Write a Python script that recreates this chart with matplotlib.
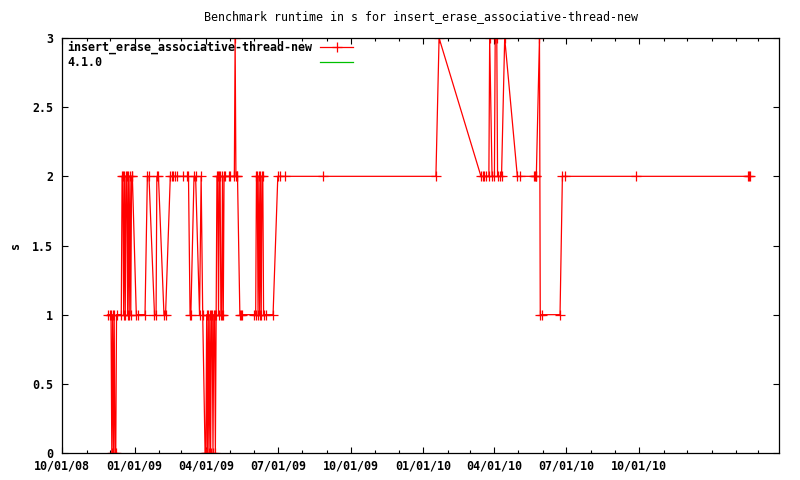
import matplotlib
matplotlib.use("Agg")
import matplotlib.pyplot as plt
import matplotlib.dates as mdates
from matplotlib.lines import Line2D
from matplotlib.ticker import FixedLocator
import pandas as pd

title = "Benchmark runtime in s for insert_erase_associative-thread-new"
y_label = "s"
series_label = "insert_erase_associative-thread-new"
ref_label = "4.1.0"

dates = [
    "2008-11-28", "2008-12-01", "2008-12-02", "2008-12-03", "2008-12-04", "2008-12-05",
    "2008-12-06", "2008-12-07", "2008-12-08", "2008-12-09",
    "2008-12-15", "2008-12-16", "2008-12-17", "2008-12-18", "2008-12-19", "2008-12-20",
    "2008-12-21", "2008-12-22", "2008-12-23", "2008-12-24", "2008-12-25", "2008-12-26",
    "2008-12-27", "2008-12-28", "2008-12-29",
    "2009-01-03", "2009-01-05", "2009-01-14", "2009-01-17", "2009-01-19", "2009-01-26",
    "2009-01-28", "2009-01-29", "2009-01-31", "2009-02-07", "2009-02-09", "2009-02-15",
    "2009-02-17", "2009-02-19", "2009-02-21", "2009-02-24",
    "2009-03-03", "2009-03-08", "2009-03-10", "2009-03-12", "2009-03-13", "2009-03-17",
    "2009-03-19", "2009-03-24", "2009-03-26", "2009-03-28", "2009-03-31",
    "2009-04-01", "2009-04-02", "2009-04-03", "2009-04-04", "2009-04-05", "2009-04-06",
    "2009-04-07", "2009-04-08", "2009-04-09", "2009-04-10", "2009-04-11", "2009-04-12",
    "2009-04-13", "2009-04-14", "2009-04-15", "2009-04-16", "2009-04-17", "2009-04-18",
    "2009-04-19", "2009-04-20", "2009-04-21", "2009-04-22", "2009-04-23", "2009-04-24",
    "2009-04-25", "2009-04-30", "2009-05-02", "2009-05-07", "2009-05-08", "2009-05-09",
    "2009-05-10", "2009-05-11", "2009-05-14", "2009-05-15", "2009-05-17",
    "2009-06-01", "2009-06-03", "2009-06-04", "2009-06-05", "2009-06-06", "2009-06-07",
    "2009-06-08", "2009-06-09", "2009-06-10", "2009-06-11", "2009-06-12", "2009-06-13",
    "2009-06-16", "2009-06-25", "2009-07-01", "2009-07-04", "2009-07-10", "2009-08-27",
    "2010-01-17", "2010-01-21", "2010-03-15", "2010-03-17", "2010-03-19", "2010-03-21",
    "2010-03-25", "2010-03-26", "2010-03-29", "2010-04-01", "2010-04-02", "2010-04-04",
    "2010-04-05", "2010-04-08", "2010-04-10", "2010-04-14", "2010-04-30", "2010-05-03",
    "2010-05-21", "2010-05-22", "2010-05-23", "2010-05-24", "2010-05-28", "2010-05-29",
    "2010-05-31", "2010-06-23", "2010-06-26", "2010-06-29", "2010-09-27",
    "2011-02-16", "2011-02-17", "2011-02-18",
]

runtimes = [
    1, 1, 1, 0, 1, 0,
    1, 0, 0, 1,
    1, 2, 2, 1, 2, 1,
    2, 2, 1, 2, 1, 2,
    1, 2, 2,
    1, 1, 1, 2, 2, 1,
    1, 2, 2, 1, 1, 2,
    2, 2, 2, 2,
    2, 2, 2, 1, 1, 2,
    2, 1, 2, 1, 0,
    0, 1, 0, 1, 0, 1,
    0, 1, 1, 0, 1, 1,
    0, 1, 2, 2, 1, 2,
    2, 1, 1, 2, 1, 2,
    2, 2, 2, 2, 3, 2,
    2, 2, 1, 1, 1,
    1, 1, 2, 2, 1, 2,
    1, 2, 1, 2, 2, 1,
    1, 1, 2, 2, 2, 2,
    2, 3, 2, 2, 2, 2,
    2, 3, 2, 2, 3, 3,
    2, 2, 2, 3, 2, 2,
    2, 2, 2, 2, 3, 1,
    1, 1, 2, 2, 2,
    2, 2, 2,
]

x_start = "2008-10-01"
x_end = "2011-03-27"
x_major_ticks = ["2008-10-01", "2009-01-01", "2009-04-01", "2009-07-01", "2009-10-01",
                 "2010-01-01", "2010-04-01", "2010-07-01", "2010-10-01"]
y_ticks = [0, 0.5, 1, 1.5, 2, 2.5, 3]
y_ticklabels = ["0", "0.5", "1", "1.5", "2", "2.5", "3"]

W, H = 800, 480
fig = plt.figure(figsize=(W / 100, H / 100), dpi=100)
L, R, T, B = 62, 779, 38, 453
ax = fig.add_axes([L / W, 1 - B / H, (R - L) / W, (B - T) / H])

font = "DejaVu Sans Mono"
fs = 8.4
red = "#ff0000"
green = "#00c000"

x = pd.to_datetime(dates)
ax.plot(x, runtimes, color=red, lw=0.9, marker="+", ms=6.5, mew=0.9)

ax.set_xlim(pd.Timestamp(x_start), pd.Timestamp(x_end))
ax.set_ylim(0, 3)
ax.set_yticks(y_ticks)
ax.set_yticklabels(y_ticklabels, fontfamily=font, fontsize=fs, fontweight="bold")

major_nums = mdates.date2num(pd.to_datetime(x_major_ticks))
ax.xaxis.set_major_locator(FixedLocator(major_nums))
ax.xaxis.set_minor_locator(mdates.MonthLocator())
ax.xaxis.set_major_formatter(mdates.DateFormatter("%m/%d/%y"))

ax.tick_params(which="major", direction="in", length=4.5, width=0.8,
               top=True, right=True, color="black")
ax.tick_params(which="minor", direction="in", length=2.2, width=0.8,
               top=True, right=False, left=False, color="black")
ax.tick_params(axis="x", which="major", pad=5)
ax.tick_params(axis="y", which="major", pad=6.5)
for lbl in ax.get_xticklabels():
    lbl.set_fontfamily(font)
    lbl.set_fontsize(fs)
    lbl.set_fontweight("bold")
for s in ax.spines.values():
    s.set_linewidth(0.9)
    s.set_color("black")


def fx(px):
    return px / W


def fy(py):
    return 1 - py / H


fig.text(fx(15), fy(246), y_label, ha="center", va="center", rotation=90,
         fontfamily=font, fontsize=fs, fontweight="bold")

fig.text(fx(421), fy(17), title, ha="center", va="center",
         fontfamily=font, fontsize=fs)

# legend drawn gnuplot style: text left, sample on the right
fig.text(fx(67), fy(47), series_label, ha="left", va="center",
         fontfamily=font, fontsize=fs, fontweight="bold")
fig.text(fx(67), fy(62), ref_label, ha="left", va="center",
         fontfamily=font, fontsize=fs, fontweight="bold")
fig.add_artist(Line2D([fx(320), fx(353)], [fy(47), fy(47)], color=red, lw=0.9,
                      transform=fig.transFigure))
fig.add_artist(Line2D([fx(336.5)], [fy(47)], color=red, marker="+", ms=6.5, mew=0.9,
                      transform=fig.transFigure))
fig.add_artist(Line2D([fx(320), fx(353)], [fy(62), fy(62)], color=green, lw=0.9,
                      transform=fig.transFigure))

fig.savefig("out.png", dpi=100)
